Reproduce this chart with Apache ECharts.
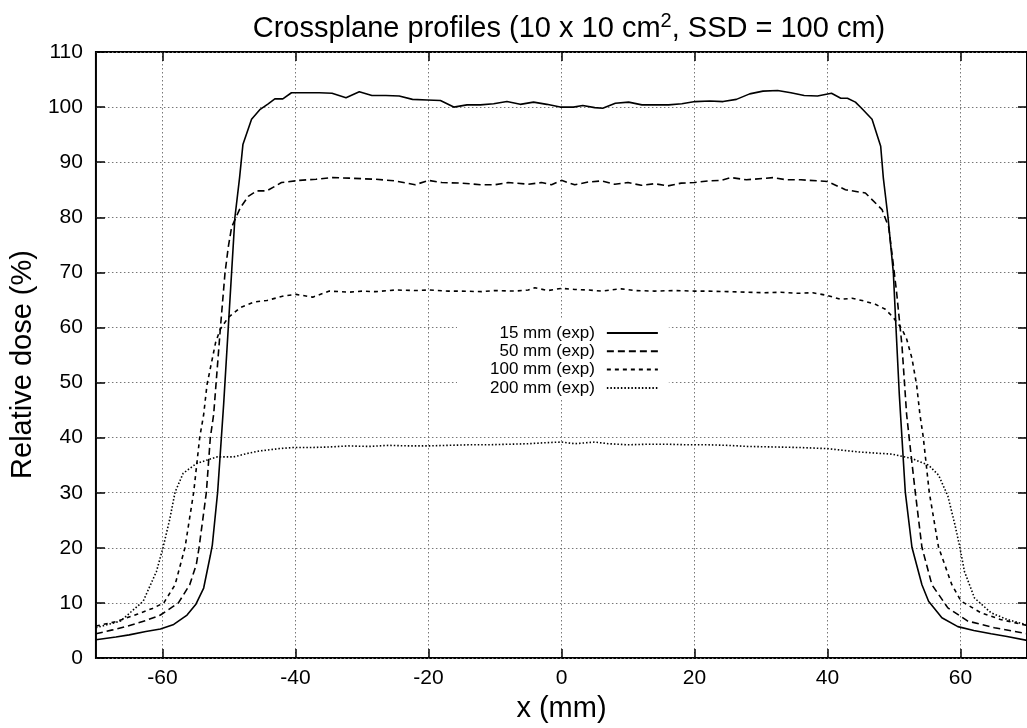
<!DOCTYPE html>
<html>
<head>
<meta charset="utf-8">
<script src="https://cdn.jsdelivr.net/npm/echarts@6/dist/echarts.min.js"></script>
<style>
html,body{margin:0;padding:0;background:#fff;}
#chart{width:1027px;height:728px;}
</style>
</head>
<body>
<div id="chart"></div>
<script>
const seriesNames = ['15 mm (exp)', '50 mm (exp)', '100 mm (exp)', '200 mm (exp)'];
const xTicks = [-60, -40, -20, 0, 20, 40, 60];
const yTicks = [0, 10, 20, 30, 40, 50, 60, 70, 80, 90, 100, 110];

const d15 = [[-70,3.3],[-67,3.8],[-65,4.2],[-62.5,4.8],[-60.3,5.25],[-58.3,6.1],[-56.3,7.8],[-55,9.7],[-53.8,12.7],[-52.8,18.6],[-52.5,20.5],[-51.7,30.1],[-50.8,46],[-50.1,60],[-49.6,70],[-49.1,80],[-48.4,87.2],[-47.9,93.2],[-46.6,97.8],[-45.3,99.6],[-44.1,100.6],[-43.1,101.5],[-41.9,101.5],[-40.6,102.6],[-38.4,102.6],[-36.4,102.6],[-34.5,102.5],[-32.4,101.7],[-30.4,102.8],[-28.5,102.1],[-26.4,102.1],[-24.4,102.0],[-22.4,101.4],[-20.2,101.3],[-18.2,101.2],[-16.2,100.0],[-14.2,100.4],[-12.2,100.4],[-10.2,100.6],[-8.2,101.0],[-6.2,100.5],[-4.2,100.9],[-2.2,100.5],[-0.2,100.0],[1.8,100.0],[3.2,100.3],[5.0,99.9],[6.2,99.8],[8.1,100.7],[10.1,100.9],[12.1,100.4],[14.1,100.4],[16.1,100.4],[18.1,100.6],[20.1,101.0],[22.3,101.1],[24.3,101.0],[26.3,101.4],[28.3,102.4],[30.3,102.9],[32.5,103.0],[34.5,102.6],[36.5,102.1],[38.5,102.0],[40.6,102.5],[42.0,101.6],[43.0,101.6],[44.2,100.9],[45.2,99.7],[46.7,97.8],[48.0,92.9],[48.4,87.1],[49.1,80],[49.9,70],[50.3,60],[50.8,47.8],[51.7,30.1],[52.7,20.1],[54.2,13.3],[55.2,10.3],[57.2,7.3],[59.6,5.7],[62,5.0],[64.6,4.4],[67,3.9],[70,3.2]];

const d50 = [[-70,4.4],[-67.5,5.1],[-65.2,5.8],[-62.5,6.8],[-60.3,7.8],[-57.6,10],[-55.9,13.3],[-54.9,17],[-54.5,20],[-53.4,30],[-52.8,40],[-52.3,44.2],[-51.3,59.7],[-50.6,69.8],[-50.1,74.6],[-49.6,78.2],[-48.3,81.7],[-47.1,83.8],[-45.8,84.8],[-44.3,84.8],[-42.1,86.3],[-39.4,86.7],[-36.9,86.9],[-34.4,87.2],[-31.9,87.1],[-30,87.0],[-28,86.9],[-25,86.6],[-22,85.9],[-20,86.7],[-18,86.3],[-15,86.2],[-12,85.9],[-10,85.9],[-8,86.3],[-5,86.0],[-3,86.3],[-1.5,85.9],[0,86.7],[2,85.9],[4,86.4],[6,86.6],[8,86.0],[10,86.3],[12,85.8],[14,86.1],[16,85.7],[18,86.2],[20,86.3],[22,86.6],[24,86.7],[25.5,87.2],[27.8,86.8],[31.8,87.2],[33.8,86.8],[36,86.8],[40,86.5],[42.7,85.0],[45.7,84.4],[48.2,81.4],[49.2,78.2],[49.7,73.4],[50.4,66.3],[51.2,56.7],[51.9,44.2],[52.6,36.5],[53.2,30.1],[54.2,20.1],[55.7,13.3],[58.1,9.1],[61.1,6.7],[65.1,5.5],[70,4.4]];

const d100 = [[-70,5.8],[-67,6.6],[-63.7,8.0],[-61.5,9.0],[-59.8,10],[-58.1,13.3],[-56.6,20.1],[-55.3,30.1],[-54.4,40],[-53.8,44.2],[-53.3,49.6],[-52.0,57.3],[-51.3,59.7],[-50.1,61.8],[-48.3,63.6],[-46.3,64.6],[-44.3,64.9],[-41.8,65.7],[-39.9,66.0],[-37.4,65.5],[-34.9,66.6],[-31.9,66.4],[-30,66.6],[-28,66.5],[-25,66.8],[-22,66.7],[-20,66.8],[-17,66.6],[-15,66.6],[-12,66.5],[-10,66.7],[-7,66.6],[-5,66.8],[-4,67.2],[-2,66.7],[0,67.1],[2,66.9],[4,66.8],[6,66.6],[8,66.9],[9,67.0],[11,66.7],[14,66.6],[17,66.7],[20,66.6],[22,66.6],[25,66.5],[27.8,66.4],[30.3,66.3],[33,66.4],[35.5,66.2],[37.8,66.3],[40,65.8],[42.0,65.1],[43.7,65.3],[45.5,64.8],[47.2,64.2],[48.7,63.3],[49.9,61.8],[51.2,59.7],[51.9,57.9],[52.7,54.4],[53.4,49.6],[53.9,44.2],[54.4,40.1],[55.3,30.1],[56.7,20.1],[58.7,13.3],[60.1,10.3],[63.1,8.2],[66,7.0],[70,5.9]];

const d200 = [[-70,5.5],[-66.3,6.7],[-62.9,10.3],[-60.9,15.7],[-59.9,20.1],[-58.9,25.2],[-58.1,30.1],[-56.9,33.5],[-54.9,35.3],[-51.8,36.5],[-49.3,36.5],[-47,37.2],[-45.3,37.6],[-42.5,38.0],[-40.4,38.2],[-37.9,38.2],[-35,38.3],[-32,38.5],[-29,38.4],[-26,38.6],[-23,38.5],[-20,38.5],[-17,38.6],[-14,38.7],[-11,38.7],[-8,38.8],[-5,38.9],[-2,39.1],[0,39.2],[2,38.9],[5,39.2],[7,38.9],[10,38.7],[13,38.8],[16,38.8],[19,38.7],[22,38.7],[25,38.6],[28,38.4],[32.3,38.3],[36,38.2],[40,38.0],[44.7,37.4],[49.7,37.0],[52.7,36.2],[55.2,35.0],[56.7,33.2],[58.1,29.4],[59.2,24.0],[59.9,20.1],[60.6,15.7],[62.1,10.9],[64.6,8.2],[67,7.0],[70,6.0]];

const seriesData = [d15, d50, d100, d200];
const dashTypes = ['solid', [7, 4], [4, 4], [1.5, 2]];

const FONT = '"Liberation Sans", Arial, Helvetica, sans-serif';
const chart = echarts.init(document.getElementById('chart'), null, {renderer: 'canvas'});

const gridSplit = {show: true, lineStyle: {color: '#777', type: [1.5, 2.5], width: 1}};
const tickStyle = {color: '#000', width: 1.5};
const noLine = {show: false, onZero: false};

chart.setOption({
  animation: false,
  backgroundColor: '#fff',
  title: {
    text: 'Crossplane profiles (10 x 10 cm{sup|2}, SSD = 100 cm)',
    left: 564, top: 6, textAlign: 'center',
    textStyle: {
      fontFamily: FONT, fontSize: 29, fontWeight: 'normal', color: '#000', lineHeight: 35,
      rich: {sup: {fontFamily: FONT, fontSize: 20, color: '#000', verticalAlign: 'top', lineHeight: 20}}
    }
  },
  grid: {left: 95, top: 52, width: 938, height: 616, show: true, borderColor: '#000', borderWidth: 2, containLabel: false},
  legend: {
    orient: 'vertical', align: 'right', left: 457, top: 318,
    backgroundColor: '#fff', padding: [6, 10, 1, 33], itemGap: 0.3,
    itemWidth: 51, itemHeight: 18, selectedMode: false,
    itemStyle: {opacity: 0},
    textStyle: {fontFamily: FONT, fontSize: 17, lineHeight: 18, color: '#000', padding: [0, 7, 0, 0]},
    data: seriesNames
  },
  xAxis: [{
    type: 'value', min: -70, max: 70, position: 'bottom',
    axisLine: noLine,
    axisTick: {show: true, inside: true, length: 9, lineStyle: tickStyle, customValues: xTicks},
    axisLabel: {show: true, customValues: xTicks, fontFamily: FONT, fontSize: 21, color: '#000', margin: 10},
    splitLine: gridSplit,
    name: 'x (mm)', nameLocation: 'middle', nameGap: 36,
    nameTextStyle: {fontFamily: FONT, fontSize: 29, color: '#000'}
  }, {
    type: 'value', min: -70, max: 70, position: 'top',
    axisLine: noLine,
    axisTick: {show: true, inside: true, length: 9, lineStyle: tickStyle, customValues: xTicks},
    axisLabel: {show: false, customValues: xTicks},
    splitLine: {show: false}
  }],
  yAxis: [{
    type: 'value', min: 0, max: 110, interval: 10, position: 'left',
    axisLine: noLine,
    axisTick: {show: true, inside: true, length: 9, lineStyle: tickStyle, customValues: yTicks},
    axisLabel: {show: true, customValues: yTicks, fontFamily: FONT, fontSize: 21, color: '#000', margin: 13},
    splitLine: gridSplit,
    name: 'Relative dose (%)', nameLocation: 'middle', nameGap: 52,
    nameTextStyle: {fontFamily: FONT, fontSize: 29, color: '#000', padding: [0, 19, 0, 0]}
  }, {
    type: 'value', min: 0, max: 110, interval: 10, position: 'right',
    axisLine: noLine,
    axisTick: {show: true, inside: true, length: 9, lineStyle: tickStyle, customValues: yTicks},
    axisLabel: {show: false},
    splitLine: {show: false}
  }],
  series: seriesNames.map((name, i) => ({
    name: name, type: 'line', xAxisIndex: 0, yAxisIndex: 0,
    data: seriesData[i], showSymbol: false, symbol: 'none',
    lineStyle: {color: '#000', width: 1.6, type: dashTypes[i]},
    itemStyle: {color: '#000'},
    emphasis: {disabled: true}
  }))
});
</script>
</body>
</html>
